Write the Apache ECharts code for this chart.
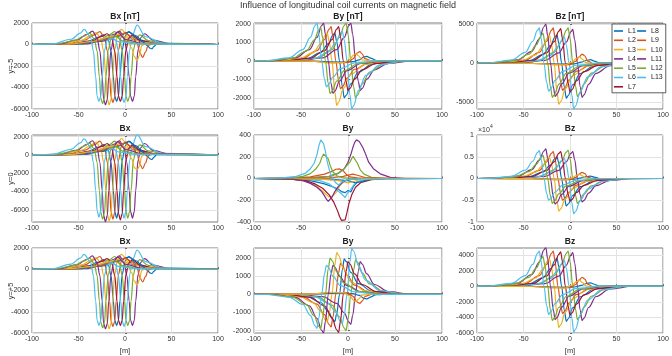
<!DOCTYPE html>
<html>
<head>
<meta charset="utf-8">
<script src="https://cdn.jsdelivr.net/npm/echarts@6/dist/echarts.min.js"></script>
<style>
  html, body { margin: 0; padding: 0; background: #fff; }
  #chart { width: 672px; height: 356px; }
</style>
</head>
<body>
<div id="chart"></div>
<script>
// coil lines L1..L13, MATLAB default colour order
var lineNames = ['L1', 'L2', 'L3', 'L4', 'L5', 'L6', 'L7', 'L8', 'L9', 'L10', 'L11', 'L12', 'L13'];
var lineColors = ['#0072BD', '#D95319', '#EDB120', '#7E2F8E', '#77AC30', '#4DBEEE', '#A2142F',
  '#0072BD', '#D95319', '#EDB120', '#7E2F8E', '#77AC30', '#4DBEEE'];

var mainTitle = 'Influence of longitudinal coil currents on magnetic field';
var panelTitles = ['Bx [nT]', 'By [nT]', 'Bz [nT]', 'Bx', 'By', 'Bz', 'Bx', 'By', 'Bz'];
var rowLabels = ['y=-5', 'y=0', 'y=+5'];

var ticksBx5 = [-6000, -4000, -2000, 0, 2000];
var ticksBy5 = [-2000, -1000, 0, 1000, 2000];
var ticksBzM5 = [-5000, 0, 5000];
var ticksBx0 = [-6000, -4000, -2000, 0, 2000];
var ticksBy0 = [-400, -200, 0, 200, 400];
var ticksBz0 = [-10000, -5000, 0, 5000, 10000];
var ticksBzP5 = [-6000, -4000, -2000, 0, 2000, 4000];

// Bx, y=-5  (one [x, nT] list per line, L1..L13)
var bxMinus5 = [
  [[-100,0],[-59,50],[-39,315],[-29,675],[-23,900],[-18,450],[-15,-600],[-12.5,-3000],[-11,-4800],[-9,-5300],[-7,-4800],[-5.5,-3000],[-3,-500],[0,780],[4,1200],[13,480],[31,96],[100,0]],
  [[-100,0],[-63,50],[-43,420],[-33,900],[-27,1200],[-22,600],[-19,-600],[-16.5,-3000],[-15,-4900],[-13,-5400],[-11,-4900],[-9.5,-3000],[-7,-500],[-4,715],[0,1100],[9,440],[27,88],[100,0]],
  [[-100,0],[-67,50],[-47,385],[-37,825],[-31,1100],[-26,550],[-23,-600],[-20.5,-3000],[-19,-5100],[-17,-5600],[-15,-5100],[-13.5,-3000],[-11,-500],[-8,910],[-4,1400],[5,560],[23,112],[100,0]],
  [[-100,0],[-42,50],[-22,440],[-12,940],[-6,1250],[-1,625],[2,-600],[4.5,-3000],[6,-4800],[8,-5300],[10,-4800],[11.5,-3000],[14,-500],[17,650],[21,1000],[30,400],[48,80],[100,0]],
  [[-100,0],[-47,50],[-27,420],[-17,900],[-11,1200],[-6,600],[-3,-600],[-0.5,-3000],[1,-4800],[3,-5300],[5,-4800],[6.5,-3000],[9,-500],[12,585],[16,900],[25,360],[43,72],[100,0]],
  [[-100,0],[-51,40],[-31,280],[-21,600],[-15,800],[-10,400],[-7,-600],[-4.5,-3000],[-3,-4900],[-1,-5400],[1,-4900],[2.5,-3000],[5,-500],[8,900],[13,1800],[22,720],[40,140],[100,0]],
  [[-100,0],[-55,50],[-35,350],[-25,750],[-19,1000],[-14,500],[-11,-600],[-8.5,-3000],[-7,-4800],[-5,-5300],[-3,-4800],[-1.5,-3000],[1,-500],[4,585],[8,900],[17,360],[35,72],[100,0]],
  [[-100,0],[-50,50],[-25,300],[-8,750],[4,1150],[12,800],[19,250],[24,-100],[27,-350],[29,-400],[31,-200],[34,30],[45,40],[100,0]],
  [[-100,0],[-55,50],[-30,300],[-10,750],[0,1050],[8,700],[13,100],[16,-800],[19,-1200],[22,-700],[25,-50],[32,120],[50,30],[100,0]],
  [[-100,0],[-60,50],[-35,280],[-18,700],[-6,950],[2,600],[7,-300],[10,-1100],[13,-1500],[15.5,-1000],[18,-100],[24,150],[40,40],[100,0]],
  [[-100,0],[-71,50],[-51,440],[-41,940],[-35,1250],[-30,625],[-27,-600],[-24.5,-3000],[-23,-5100],[-21,-5600],[-19,-5100],[-17.5,-3000],[-15,-500],[-12,750],[-8,1150],[1,460],[19,92],[100,0]],
  [[-100,0],[-74,50],[-54,370],[-44,790],[-38,1050],[-33,525],[-30,-600],[-27.5,-3000],[-26,-5000],[-24,-5500],[-22,-5000],[-20.5,-3000],[-18,-500],[-15,520],[-11,800],[-2,320],[16,64],[100,0]],
  [[-100,0],[-78,50],[-58,490],[-48,1050],[-44,1400],[-37,700],[-34,-600],[-31.5,-3000],[-30,-4800],[-28,-5300],[-26,-4800],[-24.5,-3000],[-22,-500],[-19,390],[-15,600],[-6,240],[12,50],[100,0]]
];

// By, y=-5
var byMinus5 = [
  [[-100,0],[-69,10],[-44,120],[-29,450],[-21,930],[-16,1400],[-14,1500],[-12,1050],[-9,0],[-6,-1400],[-4,-2000],[-2,-1860],[3,-1240],[11,-600],[26,-160],[51,0],[100,0]],
  [[-100,0],[-73,10],[-48,150],[-33,555],[-25,1150],[-20,1720],[-18,1850],[-16,1300],[-13,0],[-10,-1050],[-8,-1500],[-6,-1400],[-1,-930],[7,-450],[22,-120],[47,0],[100,0]],
  [[-100,0],[-77,10],[-52,120],[-37,450],[-29,930],[-24,1400],[-22,1500],[-20,1050],[-17,0],[-14,-1680],[-12,-2400],[-10,-2230],[-5,-1490],[3,-720],[18,-190],[43,0],[100,0]],
  [[-100,0],[-52,10],[-27,165],[-12,615],[-4,1270],[1,1910],[3,2050],[5,1435],[8,0],[11,-1120],[13,-1600],[15,-1490],[20,-990],[28,-480],[43,-130],[68,0],[100,0]],
  [[-100,0],[-57,10],[-32,165],[-17,615],[-9,1270],[-4,1910],[-2,2050],[0,1435],[3,0],[6,-1400],[8,-2000],[10,-1860],[15,-1240],[23,-600],[38,-160],[63,0],[100,0]],
  [[-100,0],[-61,10],[-36,130],[-21,480],[-13,990],[-8,1490],[-6,1600],[-4,1120],[-1,0],[2,-1820],[4,-2600],[6,-2420],[11,-1610],[19,-780],[34,-210],[59,0],[100,0]],
  [[-100,0],[-65,10],[-40,150],[-25,555],[-17,1150],[-12,1720],[-10,1850],[-8,1300],[-5,0],[-2,-1120],[0,-1600],[2,-1490],[7,-990],[15,-480],[30,-130],[55,0],[100,0]],
  [[-100,0],[-40,-10],[-10,-60],[5,-40],[12,60],[17,220],[20,250],[24,150],[30,20],[45,0],[100,0]],
  [[-100,0],[-40,-15],[-15,-100],[0,-80],[5,100],[10,430],[12.5,500],[15,380],[18,120],[25,0],[100,0]],
  [[-100,0],[-40,-15],[-18,-110],[-5,-90],[2,80],[6,330],[8.5,400],[11,280],[15,50],[25,0],[100,0]],
  [[-100,0],[-81,10],[-56,165],[-41,615],[-33,1270],[-28,1910],[-26,2050],[-24,1435],[-21,0],[-18,-1225],[-16,-1750],[-14,-1630],[-9,-1085],[-1,-525],[14,-140],[39,0],[100,0]],
  [[-100,0],[-84,10],[-59,145],[-44,540],[-36,1120],[-31,1670],[-29,1800],[-27,1260],[-24,0],[-21,-1230],[-19,-1760],[-17,-1640],[-12,-1090],[-4,-530],[11,-140],[36,0],[100,0]],
  [[-100,0],[-88,10],[-63,165],[-48,615],[-40,1270],[-35,1910],[-33,2050],[-31,1435],[-28,0],[-25,-980],[-23,-1400],[-21,-1300],[-16,-870],[-8,-420],[7,-110],[32,0],[100,0]]
];

// Bz, y=-5
var bzMinus5 = [
  [[-100,0],[-69,30],[-44,290],[-29,1080],[-21,2230],[-16,3350],[-14,3600],[-12,2520],[-9,0],[-6,-3150],[-4,-4500],[-2,-4190],[3,-2790],[11,-1350],[26,-360],[51,0],[100,0]],
  [[-100,0],[-73,30],[-48,360],[-33,1350],[-25,2790],[-20,4190],[-18,4500],[-16,3150],[-13,0],[-10,-2450],[-8,-3500],[-6,-3260],[-1,-2170],[7,-1050],[22,-280],[47,0],[100,0]],
  [[-100,0],[-77,30],[-52,280],[-37,1050],[-29,2170],[-24,3260],[-22,3500],[-20,2450],[-17,0],[-14,-3710],[-12,-5300],[-10,-4930],[-5,-3290],[3,-1590],[18,-420],[43,0],[100,0]],
  [[-100,0],[-52,30],[-27,340],[-12,1290],[-4,2670],[1,4000],[3,4300],[5,3010],[8,0],[11,-3080],[13,-4400],[15,-4090],[20,-2730],[28,-1320],[43,-350],[68,0],[100,0]],
  [[-100,0],[-57,30],[-32,360],[-17,1350],[-9,2790],[-4,4190],[-2,4500],[0,3150],[3,0],[6,-3010],[8,-4300],[10,-4000],[15,-2670],[23,-1290],[38,-340],[63,0],[100,0]],
  [[-100,0],[-61,30],[-36,260],[-21,990],[-13,2050],[-8,3070],[-6,3300],[-4,2310],[-1,0],[2,-4130],[4,-5900],[6,-5490],[11,-3660],[19,-1770],[34,-470],[59,0],[100,0]],
  [[-100,0],[-65,30],[-40,350],[-25,1320],[-17,2730],[-12,4090],[-10,4400],[-8,3080],[-5,0],[-2,-2590],[0,-3700],[2,-3440],[7,-2290],[15,-1110],[30,-300],[55,0],[100,0]],
  [[-100,0],[-40,-30],[-10,-150],[5,-100],[12,100],[18,350],[22,420],[26,250],[32,0],[45,-30],[100,0]],
  [[-100,0],[-40,-40],[-15,-200],[0,-200],[6,200],[10,800],[13,1150],[16,900],[19,250],[25,-80],[40,-30],[100,0]],
  [[-100,0],[-40,-40],[-18,-200],[-5,-250],[2,100],[7,600],[10,800],[13,500],[17,50],[25,-60],[40,-20],[100,0]],
  [[-100,0],[-81,30],[-56,400],[-41,1500],[-33,3100],[-28,4650],[-26,5000],[-24,3500],[-21,0],[-18,-3010],[-16,-4300],[-14,-4000],[-9,-2670],[-1,-1290],[14,-340],[39,0],[100,0]],
  [[-100,0],[-84,30],[-59,300],[-44,1140],[-36,2360],[-31,3530],[-29,3800],[-27,2660],[-24,0],[-21,-3080],[-19,-4400],[-17,-4090],[-12,-2730],[-4,-1320],[11,-350],[36,0],[100,0]],
  [[-100,0],[-88,30],[-63,360],[-48,1350],[-40,2790],[-35,4190],[-33,4500],[-31,3150],[-28,0],[-25,-2520],[-23,-3600],[-21,-3350],[-16,-2230],[-8,-1080],[7,-290],[32,0],[100,0]]
];

// Bx, y=0
var bxZero = [
  [[-100,0],[-59,60],[-39,400],[-29,850],[-23,1130],[-18,560],[-15,-800],[-12.5,-3900],[-11,-6200],[-9,-6900],[-7,-6200],[-5.5,-3900],[-3,-600],[0,980],[4,1500],[13,600],[31,120],[100,0]],
  [[-100,0],[-63,60],[-43,520],[-33,1120],[-27,1500],[-22,750],[-19,-800],[-16.5,-3900],[-15,-6300],[-13,-7000],[-11,-6300],[-9.5,-3900],[-7,-600],[-4,910],[0,1400],[9,560],[27,110],[100,0]],
  [[-100,0],[-67,60],[-47,490],[-37,1050],[-31,1400],[-26,700],[-23,-800],[-20.5,-3900],[-19,-6500],[-17,-7200],[-15,-6500],[-13.5,-3900],[-11,-600],[-8,1170],[-4,1800],[5,720],[23,140],[100,0]],
  [[-100,0],[-42,60],[-22,540],[-12,1160],[-6,1550],[-1,780],[2,-800],[4.5,-3900],[6,-6200],[8,-6900],[10,-6200],[11.5,-3900],[14,-600],[17,810],[21,1250],[30,500],[48,100],[100,0]],
  [[-100,0],[-47,60],[-27,520],[-17,1120],[-11,1500],[-6,750],[-3,-800],[-0.5,-3900],[1,-6200],[3,-6900],[5,-6200],[6.5,-3900],[9,-600],[12,710],[16,1100],[25,440],[43,90],[100,0]],
  [[-100,0],[-51,50],[-31,350],[-21,750],[-15,1000],[-10,500],[-7,-800],[-4.5,-3900],[-3,-6200],[-1,-6900],[1,-6200],[2.5,-3900],[5,-600],[8,1100],[13,2250],[22,900],[40,180],[100,0]],
  [[-100,0],[-55,60],[-35,440],[-25,940],[-19,1250],[-14,620],[-11,-800],[-8.5,-3900],[-7,-6400],[-5,-7100],[-3,-6400],[-1.5,-3900],[1,-600],[4,710],[8,1100],[17,440],[35,90],[100,0]],
  [[-100,0],[-50,60],[-25,380],[-8,940],[4,1450],[12,1000],[19,310],[24,-120],[27,-440],[29,-500],[31,-250],[34,40],[45,50],[100,0]],
  [[-100,0],[-55,60],[-30,380],[-10,940],[0,1300],[8,880],[13,120],[16,-1000],[19,-1500],[22,-880],[25,-60],[32,150],[50,40],[100,0]],
  [[-100,0],[-60,60],[-35,350],[-18,880],[-6,1200],[2,750],[7,-380],[10,-1380],[13,-1600],[15.5,-1250],[18,-120],[24,190],[40,50],[100,0]],
  [[-100,0],[-71,60],[-51,540],[-41,1160],[-35,1550],[-30,780],[-27,-800],[-24.5,-3900],[-23,-6600],[-21,-7300],[-19,-6600],[-17.5,-3900],[-15,-600],[-12,940],[-8,1450],[1,580],[19,115],[100,0]],
  [[-100,0],[-74,60],[-54,460],[-44,980],[-38,1300],[-33,650],[-30,-800],[-27.5,-3900],[-26,-6300],[-24,-7000],[-22,-6300],[-20.5,-3900],[-18,-600],[-15,650],[-11,1000],[-2,400],[16,80],[100,0]],
  [[-100,0],[-78,60],[-58,610],[-48,1310],[-44,1750],[-37,880],[-34,-800],[-31.5,-3900],[-30,-6100],[-28,-6800],[-26,-6100],[-24.5,-3900],[-22,-600],[-19,490],[-15,750],[-6,300],[12,60],[100,0]]
];

// By, y=0 (noisy, small)
var byZero = [
  [[-100,0],[-60,-5],[-40,-20],[-25,-50],[-15,-80],[-10,-100],[-7,-120],[-5,-105],[-3,-130],[0,-110],[3,-125],[6,-70],[10,-30],[20,-10],[40,0],[100,0]],
  [[-100,0],[-60,3],[-40,15],[-25,40],[-17,65],[-13,85],[-11,100],[-9,88],[-7,95],[-5,70],[-2,40],[2,15],[10,5],[30,0],[100,0]],
  [[-100,0],[-60,-5],[-45,-25],[-35,-60],[-28,-110],[-23,-150],[-20,-170],[-18,-185],[-16,-160],[-14,-170],[-12,-120],[-9,-70],[-5,-30],[0,-10],[15,0],[100,0]],
  [[-100,0],[-40,5],[-20,20],[-10,50],[-4,90],[0,150],[3,220],[5,280],[7,330],[9,355],[10.5,362],[12,340],[13,345],[14,310],[16,280],[18,240],[22,150],[27,90],[35,40],[45,10],[60,0],[100,0]],
  [[-100,0],[-40,5],[-20,20],[-10,50],[-5,80],[-1,120],[2,150],[4,185],[5.5,205],[7,180],[8.5,195],[10,140],[13,80],[17,40],[25,10],[40,0],[100,0]],
  [[-100,0],[-50,-5],[-30,-20],[-20,-50],[-14,-90],[-10,-120],[-7,-140],[-5,-155],[-3,-175],[-1,-140],[1,-150],[3,-100],[6,-60],[10,-30],[20,-8],[40,0],[100,0]],
  [[-100,0],[-60,-5],[-45,-20],[-35,-50],[-27,-90],[-20,-150],[-15,-220],[-11,-300],[-9,-350],[-7,-385],[-6,-370],[-5,-400],[-3,-380],[-1,-310],[1,-230],[4,-150],[8,-80],[14,-35],[25,-10],[40,0],[100,0]],
  [[-100,0],[-20,-5],[0,-20],[8,-40],[14,-30],[25,-5],[100,0]],
  [[-100,0],[-20,5],[-5,20],[5,40],[10,30],[20,5],[100,0]],
  [[-100,0],[-30,-5],[-10,-20],[0,-40],[5,-30],[15,-5],[100,0]],
  [[-100,0],[-60,-5],[-48,-20],[-40,-45],[-33,-80],[-28,-120],[-25,-160],[-23,-190],[-21,-210],[-19,-200],[-17,-170],[-14,-120],[-10,-70],[-5,-30],[0,-10],[15,0],[100,0]],
  [[-100,0],[-60,5],[-48,20],[-40,45],[-34,90],[-30,140],[-28,190],[-26,225],[-24.5,235],[-23,200],[-21,180],[-19,120],[-16,60],[-12,25],[-5,5],[10,0],[100,0]],
  [[-100,0],[-70,5],[-55,20],[-45,50],[-40,90],[-36,140],[-33,220],[-31,300],[-29,355],[-27.5,340],[-26,320],[-24,250],[-22,150],[-19,50],[-16,0],[-13,-40],[-10,-60],[-6,-30],[0,-10],[20,0],[100,0]]
];

// Bz, y=0
var bzZero = [
  [[-100,0],[-69,40],[-44,400],[-29,1500],[-21,3100],[-16,4650],[-14,5000],[-12,3500],[-9,0],[-6,-4410],[-4,-6300],[-2,-5860],[3,-3910],[11,-1890],[26,-500],[51,0],[100,0]],
  [[-100,0],[-73,40],[-48,500],[-33,1860],[-25,3840],[-20,5770],[-18,6200],[-16,4340],[-13,0],[-10,-3500],[-8,-5000],[-6,-4650],[-1,-3100],[7,-1500],[22,-400],[47,0],[100,0]],
  [[-100,0],[-77,40],[-52,390],[-37,1470],[-29,3040],[-24,4560],[-22,4900],[-20,3430],[-17,0],[-14,-5250],[-12,-7500],[-10,-6980],[-5,-4650],[3,-2250],[18,-600],[43,0],[100,0]],
  [[-100,0],[-52,40],[-27,500],[-12,1860],[-4,3840],[1,5770],[3,6200],[5,4340],[8,0],[11,-3780],[13,-5400],[15,-5020],[20,-3350],[28,-1620],[43,-430],[68,0],[100,0]],
  [[-100,0],[-57,40],[-32,520],[-17,1950],[-9,4030],[-4,6050],[-2,6500],[0,4550],[3,0],[6,-3990],[8,-5700],[10,-5300],[15,-3530],[23,-1710],[38,-460],[63,0],[100,0]],
  [[-100,0],[-61,40],[-36,370],[-21,1380],[-13,2850],[-8,4280],[-6,4600],[-4,3220],[-1,0],[2,-5670],[4,-8100],[6,-7530],[11,-5020],[19,-2430],[34,-650],[59,0],[100,0]],
  [[-100,0],[-65,40],[-40,500],[-25,1860],[-17,3840],[-12,5770],[-10,6200],[-8,4340],[-5,0],[-2,-3640],[0,-5200],[2,-4840],[7,-3220],[15,-1560],[30,-420],[55,0],[100,0]],
  [[-100,0],[-40,-40],[-10,-190],[5,-130],[12,130],[18,440],[22,530],[26,310],[32,0],[45,-40],[100,0]],
  [[-100,0],[-40,-50],[-15,-250],[0,-250],[6,250],[10,1000],[13,1400],[16,1100],[19,300],[25,-100],[40,-40],[100,0]],
  [[-100,0],[-40,-50],[-18,-250],[-5,-300],[2,130],[7,750],[10,1000],[13,620],[17,60],[25,-80],[40,-25],[100,0]],
  [[-100,0],[-81,40],[-56,540],[-41,2040],[-33,4220],[-28,6320],[-26,6800],[-24,4760],[-21,0],[-18,-4130],[-16,-5900],[-14,-5490],[-9,-3660],[-1,-1770],[14,-470],[39,0],[100,0]],
  [[-100,0],[-84,40],[-59,420],[-44,1590],[-36,3290],[-31,4930],[-29,5300],[-27,3710],[-24,0],[-21,-3990],[-19,-5700],[-17,-5300],[-12,-3530],[-4,-1710],[11,-460],[36,0],[100,0]],
  [[-100,0],[-88,40],[-63,510],[-48,1920],[-40,3970],[-35,5950],[-33,6400],[-31,4480],[-28,0],[-25,-3500],[-23,-5000],[-21,-4650],[-16,-3100],[-8,-1500],[7,-400],[32,0],[100,0]]
];

// By, y=+5
var byPlus5 = [
  [[-100,0],[-69,-10],[-44,-120],[-29,-450],[-21,-930],[-16,-1400],[-14,-1500],[-12,-1050],[-9,0],[-6,1365],[-4,1950],[-2,1810],[3,1210],[11,585],[26,155],[51,0],[100,0]],
  [[-100,0],[-73,-10],[-48,-145],[-33,-540],[-25,-1120],[-20,-1670],[-18,-1800],[-16,-1260],[-13,0],[-10,1190],[-8,1700],[-6,1580],[-1,1050],[7,510],[22,135],[47,0],[100,0]],
  [[-100,0],[-77,-10],[-52,-120],[-37,-450],[-29,-930],[-24,-1400],[-22,-1500],[-20,-1050],[-17,0],[-14,1610],[-12,2300],[-10,2140],[-5,1430],[3,690],[18,185],[43,0],[100,0]],
  [[-100,0],[-52,-10],[-27,-130],[-12,-495],[-4,-1020],[1,-1530],[3,-1650],[5,-1155],[8,0],[11,1260],[13,1800],[15,1670],[20,1120],[28,540],[43,145],[68,0],[100,0]],
  [[-100,0],[-57,-10],[-32,-160],[-17,-600],[-9,-1240],[-4,-1860],[-2,-2000],[0,-1400],[3,0],[6,1330],[8,1900],[10,1770],[15,1180],[23,570],[38,150],[63,0],[100,0]],
  [[-100,0],[-61,-10],[-36,-130],[-21,-480],[-13,-990],[-8,-1490],[-6,-1600],[-4,-1120],[-1,0],[2,1785],[4,2550],[6,2370],[11,1580],[19,765],[34,205],[59,0],[100,0]],
  [[-100,0],[-65,-10],[-40,-170],[-25,-630],[-17,-1300],[-12,-1950],[-10,-2100],[-8,-1470],[-5,0],[-2,1260],[0,1800],[2,1670],[7,1120],[15,540],[30,145],[55,0],[100,0]],
  [[-100,0],[-40,10],[-10,60],[5,40],[12,-60],[17,-220],[20,-250],[24,-150],[30,-20],[45,0],[100,0]],
  [[-100,0],[-40,15],[-15,100],[0,80],[5,-100],[10,-430],[12.5,-500],[15,-380],[18,-120],[25,0],[100,0]],
  [[-100,0],[-40,15],[-18,110],[-5,90],[2,-80],[6,-330],[8.5,-400],[11,-280],[15,-50],[25,0],[100,0]],
  [[-100,0],[-81,-10],[-56,-170],[-41,-640],[-33,-1320],[-28,-1980],[-26,-2130],[-24,-1490],[-21,0],[-18,1120],[-16,1600],[-14,1490],[-9,990],[-1,480],[14,130],[39,0],[100,0]],
  [[-100,0],[-84,-10],[-59,-150],[-44,-570],[-36,-1180],[-31,-1770],[-29,-1900],[-27,-1330],[-24,0],[-21,1400],[-19,2000],[-17,1860],[-12,1240],[-4,600],[11,160],[36,0],[100,0]],
  [[-100,0],[-88,-10],[-63,-150],[-48,-560],[-40,-1160],[-35,-1740],[-33,-1870],[-31,-1310],[-28,0],[-25,1120],[-23,1600],[-21,1490],[-16,990],[-8,480],[7,130],[32,0],[100,0]]
];

// Bx and Bz at y=+5 read the same as at y=-5
var bxPlus5 = bxMinus5;
var bzPlus5 = bzMinus5;

var panels = [
  { data: bxMinus5, min: -6000, max: 2000, ticks: ticksBx5 },
  { data: byMinus5, min: -2600, max: 2050, ticks: ticksBy5 },
  { data: bzMinus5, min: -5900, max: 5130, ticks: ticksBzM5 },
  { data: bxZero, min: -7330, max: 2180, ticks: ticksBx0 },
  { data: byZero, min: -400, max: 400, ticks: ticksBy0, raw: true },
  { data: bzZero, min: -10000, max: 10000, ticks: ticksBz0, scale: 10000 },
  { data: bxPlus5, min: -6000, max: 2000, ticks: ticksBx5 },
  { data: byPlus5, min: -2130, max: 2550, ticks: ticksBy5 },
  { data: bzPlus5, min: -6000, max: 4900, ticks: ticksBzP5 }
];

var colLeft = [32, 254, 477];
var colWidth = [186, 188, 186];
var rowTop = [23, 135, 248];
var rowHeight = [86, 87, 86];
var font = 'Liberation Sans, Arial, Helvetica, sans-serif';

var grids = [], xAxes = [], yAxes = [], series = [], graphics = [];

graphics.push({
  type: 'text', x: 348, y: 6,
  style: { text: mainTitle, fontSize: 9, fontFamily: font, fill: '#333', align: 'center', verticalAlign: 'middle' }
});

panels.forEach(function (p, i) {
  var row = Math.floor(i / 3), col = i % 3;
  grids.push({
    left: colLeft[col], top: rowTop[row], width: colWidth[col], height: rowHeight[row],
    show: true, borderColor: '#7d7d7d', borderWidth: 1, backgroundColor: '#fff'
  });
  xAxes.push({
    type: 'value', gridIndex: i, min: -100, max: 100, interval: 50,
    name: row === 2 ? '[m]' : '', nameLocation: 'middle', nameGap: 14,
    nameTextStyle: { fontSize: 7.5, color: '#333', fontFamily: font },
    axisLine: { show: false },
    axisTick: { show: true, inside: true, length: 2, lineStyle: { color: '#666' } },
    axisLabel: { fontSize: 7, color: '#333', margin: 3, fontFamily: font },
    splitLine: { show: true, lineStyle: { color: '#e3e3e3', width: 1 } }
  });
  var sc = p.scale || 1;
  yAxes.push({
    type: 'value', gridIndex: i, min: p.min, max: p.max,
    axisLine: { show: false },
    axisTick: { show: true, inside: true, length: 2, customValues: p.ticks, lineStyle: { color: '#666' } },
    axisLabel: {
      customValues: p.ticks, fontSize: 7, color: '#333', margin: 3, fontFamily: font,
      formatter: function (v) { return String(v / sc); }
    },
    splitLine: { show: true, lineStyle: { color: '#e3e3e3', width: 1 } }
  });
  graphics.push({
    type: 'text', x: colLeft[col] + colWidth[col] / 2, y: rowTop[row] - 6,
    style: { text: panelTitles[i], fontSize: 8.5, fontWeight: 'bold', fontFamily: font, fill: '#222', align: 'center', verticalAlign: 'middle' }
  });
  if (col === 0) {
    graphics.push({
      type: 'text', x: 11, y: rowTop[row] + rowHeight[row] / 2, rotation: Math.PI / 2,
      style: { text: rowLabels[row], fontSize: 7.5, fontFamily: font, fill: '#333', align: 'center', verticalAlign: 'middle' }
    });
  }
  p.data.forEach(function (pts, k) {
    series.push({
      type: 'line', name: lineNames[k], xAxisIndex: i, yAxisIndex: i,
      data: pts, symbol: 'none', silent: true,
      smooth: p.raw ? false : 0.35, smoothMonotone: 'x',
      lineStyle: { width: 1.2, color: lineColors[k] },
      itemStyle: { color: lineColors[k] }
    });
  });
});

// x10^4 exponent on the middle Bz axis
graphics.push({ type: 'text', x: 478, y: 130, style: { text: '\u00d710', fontSize: 7, fontFamily: font, fill: '#333', align: 'left', verticalAlign: 'middle' } });
graphics.push({ type: 'text', x: 490, y: 127, style: { text: '4', fontSize: 5, fontFamily: font, fill: '#333', align: 'left', verticalAlign: 'middle' } });

var option = {
  animation: false,
  backgroundColor: '#fff',
  textStyle: { fontFamily: font },
  grid: grids,
  xAxis: xAxes,
  yAxis: yAxes,
  legend: {
    data: lineNames, orient: 'vertical', left: 612, top: 24, height: 64,
    icon: 'rect', itemWidth: 9, itemHeight: 1.6, itemGap: 1.3, padding: [3, 3, 2, 2],
    backgroundColor: '#fff', borderColor: '#333', borderWidth: 0.8,
    selectedMode: false,
    textStyle: { fontSize: 7, color: '#222', lineHeight: 8, fontFamily: font }
  },
  graphic: graphics,
  series: series
};

var myChart = echarts.init(document.getElementById('chart'));
myChart.setOption(option);
</script>
</body>
</html>
